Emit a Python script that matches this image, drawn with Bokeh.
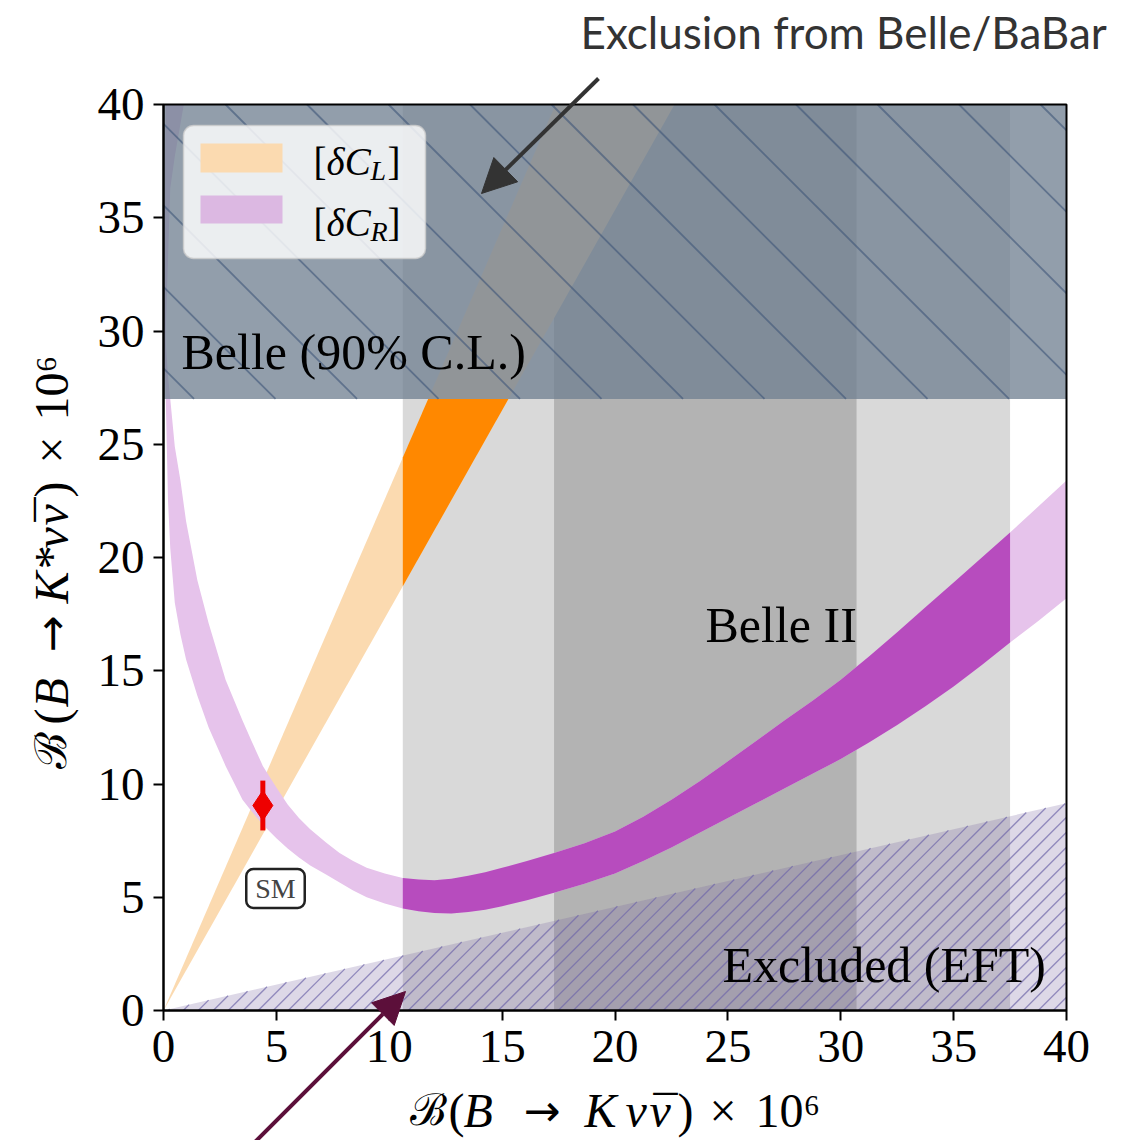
import numpy as np
from bokeh.plotting import figure
from bokeh.models import Range1d, Label, Arrow, NormalHead, BoxAnnotation, FixedTicker
from bokeh.embed import file_html
from bokeh.resources import INLINE

# ---------------- data ----------------
xticks = [0, 5, 10, 15, 20, 25, 30, 35, 40]
yticks = [0, 5, 10, 15, 20, 25, 30, 35, 40]
axis_min, axis_max = 0.0, 40.0

belle2_wide = [10.6, 37.5]      # Belle II projected band (B -> K nu nubar)
belle2_narrow = [17.3, 30.7]    # inner Belle II band
belle_limit = 27.0              # Belle 90% C.L. on B(B -> K* nu nubar)

cl_slope_lo = 1.767             # [dC_L] wedge: B(K*) / B(K)
cl_slope_hi = 2.303

cr_x = [0.0, 0.1, 0.2, 0.3, 0.5, 0.75, 1.0, 1.5, 2.0, 2.75, 3.5, 3.9, 4.4, 5.0, 5.5, 6.0,
        6.5, 7.2, 7.8, 8.4, 9.0, 9.8, 10.6, 11.3, 12.0, 12.75, 13.5, 14.25, 15.0, 16.1,
        17.3, 18.65, 20.0, 21.25, 22.5, 23.75, 25.0, 26.25, 27.5, 28.75, 30.0, 31.25,
        32.5, 33.75, 35.0, 36.25, 37.5, 38.75, 40.0]
cr_lo = [31.0, 27.0, 22.5, 20.4, 18.0, 16.6, 15.5, 13.9, 12.5, 10.8, 9.3, 8.8, 8.2, 7.6,
         7.15, 6.75, 6.4, 6.0, 5.65, 5.3, 5.0, 4.72, 4.5, 4.38, 4.3, 4.28, 4.35, 4.45, 4.6,
         4.87, 5.2, 5.6, 6.05, 6.6, 7.2, 7.85, 8.5, 9.15, 9.8, 10.45, 11.1, 11.83, 12.6,
         13.43, 14.3, 15.25, 16.25, 17.2, 18.2]
cr_hi = [33.0, 29.5, 28.0, 27.0, 24.9, 23.4, 21.6, 19.0, 17.1, 14.6, 12.8, 11.9, 10.8, 9.85,
         9.1, 8.5, 8.0, 7.42, 6.95, 6.6, 6.3, 6.05, 5.85, 5.78, 5.75, 5.82, 5.95, 6.1, 6.3,
         6.6, 6.95, 7.38, 7.9, 8.55, 9.3, 10.12, 11.0, 11.9, 12.8, 13.68, 14.6, 15.63, 16.7,
         17.8, 18.9, 20.0, 21.1, 22.25, 23.4]

cr_branch_x = [0.0, 0.1, 0.3, 0.5, 0.9, 0.1, 0.0]
cr_branch_y = [27.0, 30.0, 36.3, 37.7, 40.0, 40.0, 32.0]

eft_x = [0.0, 40.0]
eft_y = [0.0, 9.15]

sm_x = 4.4
sm_y = 9.05
sm_err = 1.1

# ---------------- colours / fonts ----------------
C_GREY1 = "#d9d9d9"
C_GREY2 = "#b3b3b3"
C_OR_LIGHT = "#fbdab0"
C_OR_DARK = "#ff8800"
C_PU_LIGHT = "#e6c3eb"
C_PU_DARK = "#b74cbe"
SERIF = "Liberation Serif"

# ---------------- layout: frame covers the whole canvas ----------------
W, H = 1129, 1140
FX0, FX1, FY1, FY0 = 163.0, 1066.0, 104.0, 1010.0   # pixel box of the 0..40 axes
XS = (FX1 - FX0) / (axis_max - axis_min)
YS = (FY0 - FY1) / (axis_max - axis_min)

def dx(px):
    return axis_min + (px - FX0) / XS

def dy(py):
    return axis_min + (FY0 - py) / YS

def sx(x):
    return FX0 + (x - axis_min) * XS

def sy(y):
    return FY0 - (y - axis_min) * YS

def clip_segment(p0, p1, poly):
    """Cyrus-Beck clip of segment p0-p1 against a convex polygon (screen px)."""
    n = len(poly)
    area = sum(poly[i][0] * poly[(i + 1) % n][1] - poly[(i + 1) % n][0] * poly[i][1]
               for i in range(n))
    sgn = 1.0 if area > 0 else -1.0
    t0, t1 = 0.0, 1.0
    d = (p1[0] - p0[0], p1[1] - p0[1])
    for i in range(n):
        a, b = poly[i], poly[(i + 1) % n]
        e = (b[0] - a[0], b[1] - a[1])
        c0 = sgn * (e[0] * (p0[1] - a[1]) - e[1] * (p0[0] - a[0]))
        cd = sgn * (e[0] * d[1] - e[1] * d[0])
        if abs(cd) < 1e-12:
            if c0 < 0:
                return None
            continue
        t = -c0 / cd
        if cd > 0:
            t0 = max(t0, t)
        else:
            t1 = min(t1, t)
        if t0 >= t1:
            return None
    return ((p0[0] + t0 * d[0], p0[1] + t0 * d[1]),
            (p0[0] + t1 * d[0], p0[1] + t1 * d[1]))

def hatch_lines(poly_data, spacing, phase, direction):
    """45 degree hatch lines (in screen space) clipped to a data-space polygon."""
    poly = [(sx(x), sy(y)) for x, y in poly_data]
    xs_all = [q[0] for q in poly]
    ys_all = [q[1] for q in poly]
    yref = min(ys_all) if direction == "back" else max(ys_all)
    span = (max(xs_all) - min(xs_all)) + (max(ys_all) - min(ys_all))
    L = 3000.0
    out_x, out_y = [], []
    u = phase - span - spacing * np.ceil(span / spacing)
    while u < max(xs_all) + span + spacing:
        if direction == "back":       # "\" : down-right on screen
            p0, p1 = (u - L, yref - L), (u + L, yref + L)
        else:                          # "/" : up-right on screen
            p0, p1 = (u - L, yref + L), (u + L, yref - L)
        seg = clip_segment(p0, p1, poly)
        if seg is not None:
            out_x.append([dx(seg[0][0]), dx(seg[1][0])])
            out_y.append([dy(seg[0][1]), dy(seg[1][1])])
        u += spacing
    return out_x, out_y

p = figure(frame_width=W, frame_height=H,
           x_range=Range1d(dx(0), dx(W)), y_range=Range1d(dy(H), dy(0)),
           output_backend="svg", toolbar_location=None,
           min_border=0, min_border_left=0, min_border_right=0,
           min_border_top=0, min_border_bottom=0,
           background_fill_color="white", border_fill_color="white")
p.title.visible = False
p.grid.visible = False
p.outline_line_color = None

for ax, ticks in ((p.xaxis[0], xticks), (p.yaxis[0], yticks)):
    ax.fixed_location = axis_min
    ax.bounds = (axis_min, axis_max)
    ax.ticker = FixedTicker(ticks=ticks)
    ax.axis_line_width = 2
    ax.major_tick_line_width = 2
    ax.major_tick_out = 10
    ax.major_tick_in = 0
    ax.minor_tick_line_color = None
    ax.major_label_text_font = SERIF
    ax.major_label_text_font_size = "47px"
    ax.major_label_text_color = "black"
p.xaxis[0].major_label_standoff = 10
p.yaxis[0].major_label_standoff = 9

# Belle II bands
p.quad(left=belle2_wide[0], right=belle2_wide[1], bottom=axis_min, top=axis_max,
       fill_color=C_GREY1, line_color=None)
p.quad(left=belle2_narrow[0], right=belle2_narrow[1], bottom=axis_min, top=axis_max,
       fill_color=C_GREY2, line_color=None)

# [dC_L] wedge (clipped to the axes box)
p.patch(x=[0.0, axis_max / cl_slope_hi, axis_max / cl_slope_lo],
        y=[0.0, axis_max, axis_max], fill_color=C_OR_LIGHT, line_color=None)
b0 = belle2_wide[0]
p.patch(x=[b0, b0, belle_limit / cl_slope_hi, belle_limit / cl_slope_lo],
        y=[b0 * cl_slope_lo, b0 * cl_slope_hi, belle_limit, belle_limit],
        fill_color=C_OR_DARK, line_color=None)

# [dC_R] band
crx = np.array(cr_x)
p.varea(x=crx, y1=cr_lo, y2=cr_hi, fill_color=C_PU_LIGHT)
p.patch(x=cr_branch_x, y=cr_branch_y, fill_color=C_PU_LIGHT, line_color=None)
m = (crx >= belle2_wide[0]) & (crx <= belle2_wide[1])
p.varea(x=crx[m], y1=np.array(cr_lo)[m], y2=np.array(cr_hi)[m], fill_color=C_PU_DARK)

# Excluded (EFT) region
p.varea(x=eft_x, y1=[0, 0], y2=eft_y, fill_color="#7864a0", fill_alpha=0.25)
ex, ey = hatch_lines([(eft_x[0], eft_y[0]), (eft_x[1], 0.0), (eft_x[1], eft_y[1])],
                     spacing=15.0, phase=3.0, direction="fwd")
p.multi_line(xs=ex, ys=ey, line_color="#6f66aa", line_alpha=0.7, line_width=1.3)

# Belle exclusion region
p.quad(left=axis_min, right=axis_max, bottom=belle_limit, top=axis_max,
       fill_color="#708090", fill_alpha=0.76, line_color=None)
bx, by = hatch_lines([(axis_min, belle_limit), (axis_max, belle_limit),
                      (axis_max, axis_max), (axis_min, axis_max)],
                     spacing=81.5, phase=200.0, direction="back")
p.multi_line(xs=bx, ys=by, line_color="#3d5578", line_alpha=0.6, line_width=1.8)

# axes box (top / right edges)
p.quad(left=axis_min, right=axis_max, bottom=axis_min, top=axis_max,
       fill_color=None, line_color="black", line_width=2)

# SM point
p.segment(x0=[sm_x], y0=[sm_y - sm_err], x1=[sm_x], y1=[sm_y + sm_err],
          line_color="#ee0000", line_width=5)
p.scatter(x=[sm_x], y=[sm_y], marker="diamond", size=30,
          fill_color="#ee0000", line_color="#ee0000")

# ---------------- texts ----------------
def lab(px, py, txt, fs="50px", font=SERIF, style="normal", align="left", angle=0.0,
        color="black"):
    p.add_layout(Label(x=dx(px), y=dy(py), text=txt, text_font=font,
                       text_font_size=fs, text_font_style=style, text_color=color,
                       text_baseline="middle", text_align=align, angle=angle))

# legend (manual)
p.add_layout(BoxAnnotation(left=dx(183), right=dx(425), top=dy(125), bottom=dy(258),
                           fill_color="white", fill_alpha=0.82,
                           line_color="#cccccc", line_alpha=0.8, line_width=1.5,
                           border_radius=10))
p.add_layout(BoxAnnotation(left=dx(200), right=dx(282), top=dy(143), bottom=dy(172),
                           fill_color=C_OR_LIGHT, fill_alpha=1, line_color=None))
p.add_layout(BoxAnnotation(left=dx(200), right=dx(282), top=dy(195), bottom=dy(223),
                           fill_color="#dcb8e2", fill_alpha=1, line_color=None))

def leg_label(mid_py, sub):
    lab(313, mid_py, "[", fs="39px")
    lab(326, mid_py, "δC", fs="39px", style="italic")
    lab(370, mid_py + 9, sub, fs="28px", style="italic")
    lab(387, mid_py, "]", fs="39px")

leg_label(161, "L")
leg_label(222, "R")

lab(181, 351, "Belle (90% C.L.)")
lab(705, 624, "Belle II")
lab(722, 964, "Excluded (EFT)")

p.add_layout(Label(x=dx(275), y=dy(888), text="SM", text_font=SERIF,
                   text_font_size="28px", text_align="center", text_baseline="middle",
                   border_line_color="#222222", border_line_width=2.5,
                   background_fill_color="white", border_radius=7, padding=(9, 4)))

# x axis title, assembled so that the italic symbols stay italic
XL = 1110
lab(409, XL, "ℬ", fs="44px")
lab(448, XL, "(", fs="48px")
lab(463, XL, "B", fs="48px", style="italic")
lab(523, XL, "→", fs="44px", font="DejaVu Sans")
lab(584, XL, "K", fs="48px", style="italic")
lab(625, XL, "ν", fs="48px", style="italic")
lab(649, XL, "ν", fs="48px", style="italic")
lab(653, XL + 3, "¯", fs="48px")
lab(677, XL, ")", fs="48px")
lab(709, XL, "×", fs="48px")
lab(755, XL, "10⁶", fs="48px")

# y axis title (rotated, reading upwards)
YL = 51
up = np.pi / 2
lab(YL, 768, "ℬ", fs="44px", angle=up)
lab(YL, 724, "(", fs="48px", angle=up)
lab(YL, 707, "B", fs="48px", style="italic", angle=up)
lab(YL, 652, "→", fs="44px", font="DejaVu Sans", angle=up)
lab(YL, 603, "K*", fs="48px", style="italic", angle=up)
lab(YL, 548, "ν", fs="48px", style="italic", angle=up)
lab(YL, 525, "ν", fs="48px", style="italic", angle=up)
lab(YL + 3, 521, "¯", fs="48px", angle=up)
lab(YL, 497, ")", fs="48px", angle=up)
lab(YL, 463, "×", fs="48px", angle=up)
lab(YL, 420, "10⁶", fs="48px", angle=up)

# annotation text and arrows
lab(580, 31, "Exclusion from Belle/BaBar", fs="44px", font="Lato", color="#333333")
p.add_layout(Arrow(x_start=dx(598), y_start=dy(78), x_end=dx(481), y_end=dy(193),
                   line_color="#333333", line_width=4,
                   end=NormalHead(size=34, fill_color="#333333", line_color="#333333")))
p.add_layout(Arrow(x_start=dx(254), y_start=dy(1142), x_end=dx(405), y_end=dy(991),
                   line_color="#5c0f3a", line_width=4,
                   end=NormalHead(size=32, fill_color="#5c0f3a", line_color="#5c0f3a")))

open("out.html", "w").write(file_html(p, INLINE))
